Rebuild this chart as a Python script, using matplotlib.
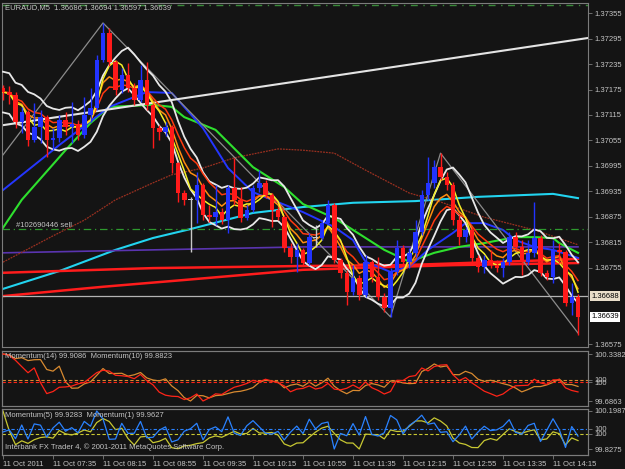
import numpy as np
import pandas as pd
import matplotlib
matplotlib.use("Agg")
import matplotlib.pyplot as plt

plt.rcParams['font.family'] = ['Liberation Sans', 'DejaVu Sans']

# ---- data (EURAUD M5, 11 Oct 2011, bar 0 = 06:55) ----
title = "EURAUD,M5  1.36686 1.36694 1.36597 1.36639"
time_labels = ["11 Oct 2011", "11 Oct 07:35", "11 Oct 08:15", "11 Oct 08:55",
               "11 Oct 09:35", "11 Oct 10:15", "11 Oct 10:55", "11 Oct 11:35",
               "11 Oct 12:15", "11 Oct 12:55", "11 Oct 13:35", "11 Oct 14:15"]
label_bars = [0, 8, 16, 24, 32, 40, 48, 56, 64, 72, 80, 88]

first_open = 1.37179
closes = [1.37169, 1.37162, 1.37098, 1.37122, 1.37056, 1.37087, 1.37110, 1.37056, 1.37061, 1.37103,
          1.37087, 1.37094, 1.37068, 1.37115, 1.37131, 1.37245, 1.37308, 1.37240, 1.37174, 1.37209,
          1.37179, 1.37150, 1.37197, 1.37139, 1.37084, 1.37075, 1.37087, 1.37002, 1.36931, 1.36915,
          1.36915, 1.36950, 1.36879, 1.36874, 1.36886, 1.36867, 1.36943, 1.36915, 1.36872, 1.36891,
          1.36943, 1.36955, 1.36926, 1.36891, 1.36874, 1.36802, 1.36780, 1.36797, 1.36766, 1.36827,
          1.36826, 1.36860, 1.36903, 1.36773, 1.36743, 1.36698, 1.36731, 1.36691, 1.36769, 1.36733,
          1.36686, 1.36660, 1.36745, 1.36802, 1.36769, 1.36790, 1.36839, 1.36926, 1.36955, 1.36992,
          1.36969, 1.36950, 1.36867, 1.36827, 1.36844, 1.36778, 1.36757, 1.36773, 1.36761, 1.36754,
          1.36769, 1.36827, 1.36804, 1.36769, 1.36790, 1.36825, 1.36743, 1.36733, 1.36797, 1.36792,
          1.36672, 1.36686, 1.36639]
highs = [1.37186, 1.37183, 1.37169, 1.37134, 1.37127, 1.37143, 1.37127, 1.37115, 1.37084, 1.37115,
         1.37122, 1.37146, 1.37103, 1.37157, 1.37179, 1.37256, 1.37332, 1.37320, 1.37245, 1.37226,
         1.37238, 1.37190, 1.37233, 1.37240, 1.37143, 1.37091, 1.37098, 1.37091, 1.37004, 1.36938,
         1.36922, 1.36981, 1.36955, 1.36903, 1.36950, 1.36896, 1.36950, 1.37014, 1.36945, 1.36903,
         1.36950, 1.36985, 1.36962, 1.36931, 1.36898, 1.36879, 1.36813, 1.36813, 1.36802, 1.36837,
         1.36856, 1.36867, 1.36915, 1.36908, 1.36778, 1.36750, 1.36761, 1.36738, 1.36785, 1.36773,
         1.36780, 1.36695, 1.36754, 1.36820, 1.36809, 1.36802, 1.36867, 1.36938, 1.37016, 1.37009,
         1.37025, 1.36981, 1.36957, 1.36879, 1.36851, 1.36851, 1.36785, 1.36785, 1.36797, 1.36773,
         1.36778, 1.36839, 1.36839, 1.36820, 1.36820, 1.36910, 1.36832, 1.36750, 1.36820, 1.36813,
         1.36797, 1.36719, 1.36694]
lows = [1.37150, 1.37141, 1.37084, 1.37072, 1.37042, 1.37051, 1.37049, 1.37016, 1.37032, 1.37051,
        1.37068, 1.37049, 1.37056, 1.37061, 1.37098, 1.37127, 1.37240, 1.37230, 1.37162, 1.37167,
        1.37169, 1.37139, 1.37146, 1.37127, 1.37037, 1.37056, 1.37065, 1.36978, 1.36910, 1.36903,
        1.36792, 1.36860, 1.36867, 1.36863, 1.36856, 1.36858, 1.36837, 1.36903, 1.36863, 1.36867,
        1.36886, 1.36933, 1.36919, 1.36851, 1.36867, 1.36792, 1.36766, 1.36745, 1.36759, 1.36761,
        1.36804, 1.36820, 1.36856, 1.36766, 1.36731, 1.36667, 1.36691, 1.36679, 1.36686, 1.36721,
        1.36679, 1.36651, 1.36639, 1.36738, 1.36759, 1.36754, 1.36780, 1.36832, 1.36915, 1.36943,
        1.36962, 1.36938, 1.36856, 1.36809, 1.36816, 1.36769, 1.36745, 1.36743, 1.36754, 1.36745,
        1.36733, 1.36761, 1.36797, 1.36738, 1.36761, 1.36780, 1.36736, 1.36726, 1.36719, 1.36766,
        1.36665, 1.36644, 1.36597]
# closes of the 14 bars before the window (needed by the momentum lines)
prior_closes = [1.36691, 1.36700, 1.36705, 1.36712, 1.36700, 1.36715, 1.36735,
                1.36864, 1.36900, 1.36850, 1.37120, 1.37250, 1.37220, 1.37190]

# long averages, (bar, price)
blue_ma = [(0, 1.36938), (9, 1.37044), (17, 1.37134), (23, 1.37169), (27, 1.37167), (32, 1.37084),
           (36, 1.36990), (40, 1.36933), (48, 1.36886), (53, 1.36851), (56, 1.36820), (58, 1.36769),
           (62, 1.36745), (65, 1.36757), (68, 1.36797), (72, 1.36837), (74, 1.36860), (77, 1.36860),
           (80, 1.36844), (82, 1.36820), (85, 1.36804), (88, 1.36797), (92, 1.36778)]
green_ma = [(0, 1.36849), (3, 1.36915), (10, 1.37032), (14, 1.37096), (17, 1.37134), (24, 1.37139),
            (27, 1.37134), (29, 1.37110), (34, 1.37080), (40, 1.36992), (45, 1.36945), (48, 1.36905),
            (53, 1.36872), (56, 1.36844), (61, 1.36797), (65, 1.36769), (69, 1.36790), (73, 1.36804),
            (77, 1.36813), (82, 1.36827), (85, 1.36827), (88, 1.36825), (89, 1.36813), (92, 1.36790)]
brown_ma = [(0, 1.36768), (8, 1.36830), (13, 1.36867), (18, 1.36915), (24, 1.36955), (27, 1.36974),
            (32, 1.36990), (37, 1.37014), (44, 1.37035), (48, 1.37032), (53, 1.37025), (58, 1.36985),
            (65, 1.36931), (70, 1.36910), (77, 1.36874), (85, 1.36844), (92, 1.36809)]
cyan_ma = [(0, 1.36705), (9, 1.36747), (18, 1.36797), (24, 1.36825), (30, 1.36846), (40, 1.36884),
           (48, 1.36898), (56, 1.36908), (66, 1.36912), (76, 1.36922), (88, 1.36929), (90, 1.36924),
           (92, 1.36919)]
purple_ma = [(0, 1.36790), (48, 1.36804), (92, 1.36804)]
red_ma_a = [(0, 1.36743), (24, 1.36754), (48, 1.36759), (64, 1.36761), (88, 1.36773), (92, 1.36776)]
red_ma_b = [(0, 1.36688), (16, 1.36710), (29, 1.36726), (48, 1.36750), (56, 1.36754), (72, 1.36761),
            (92, 1.36766)]
zigzag = [(0, 1.37021), (16, 1.37332), (62, 1.36639), (70, 1.37025), (92, 1.36601)]
trend_line = [(0, 1.37091), (92, 1.37293)]
order_level = 1.36846
order_text = "#102690446 sell"
top_level = 1.37374
gray_level = 1.36688
bid_price = 1.36639

price_ticks = [1.37355, 1.37295, 1.37235, 1.37175, 1.37115, 1.37055, 1.36995,
               1.36935, 1.36875, 1.36815, 1.36755, 1.36575]
mom1_text = "Momentum(14) 99.9086  Momentum(10) 99.8823"
mom1_labels = ["100.3382", "100", "99.6863"]
mom2_text = "Momentum(5) 99.9283  Momentum(1) 99.9627"
mom2_labels = ["100.1987", "100", "99.8275"]
footer = "Interbank FX Trader 4, \u00a9 2001-2011 MetaQuotes Software Corp."

BG = '#141414'
FRAME = '#7c7c7c'
TXT = '#c4c4c4'
W, H = 625, 469


def box(x0, y0, x1, y1):
    return [x0 / W, 1 - y1 / H, (x1 - x0) / W, (y1 - y0) / H]


def style(ax):
    ax.set_facecolor(BG)
    for sp in ax.spines.values():
        sp.set_color(FRAME)
        sp.set_linewidth(0.8)
    ax.tick_params(colors=FRAME, labelcolor=TXT, labelsize=5.5, length=3, width=0.6, pad=2)
    ax.set_xlim(-0.16, 93.6)


def pts(series):
    return [p[0] for p in series], [p[1] for p in series]


fig = plt.figure(figsize=(W / 100, H / 100), dpi=100, facecolor=BG)

# ---------------- main price window ----------------
ax = fig.add_axes(box(2, 3, 588, 347))
style(ax)
ax.set_ylim(1.36568, 1.37379)
ax.yaxis.tick_right()
ax.set_yticks(price_ticks, [f"{p:.5f}" for p in price_ticks])
ax.set_xticks([])

n = len(closes)
x = np.arange(n)
o = np.array([first_open] + closes[:-1])
c = np.array(closes)
h = np.array(highs)
l = np.array(lows)

for series, col, lw, ls in [(cyan_ma, '#22d4f0', 1.5, '-'), (purple_ma, '#5a34b0', 1.2, '-'),
                            (red_ma_a, '#ff1c1c', 1.8, '-'), (red_ma_b, '#ff1c1c', 1.8, '-'),
                            (brown_ma, '#9a3020', 0.9, (0, (1.5, 0.8))), (green_ma, '#2ee02e', 1.5, '-'),
                            (blue_ma, '#2436ff', 1.4, '-')]:
    bx, by = pts(series)
    ax.plot(bx, by, color=col, lw=lw, ls=ls, zorder=2)

zx, zy = pts(zigzag)
ax.plot(zx, zy, color='#8c8c8c', lw=0.9, zorder=2)
ax.axline(trend_line[0], trend_line[1], color='#e4e4e4', lw=1.5, zorder=2)
ax.axhline(order_level, color='#2e9a2e', lw=0.9, ls=(0, (6, 3, 1, 3)), zorder=2)
ax.axhline(top_level, color='#3a8a3a', lw=1.0, ls=(0, (5, 4, 1, 4)), zorder=2)
ax.axhline(gray_level, color='#b4b4b4', lw=0.9, zorder=2)
ax.text(2, order_level, order_text, color=TXT, fontsize=5.5, va='bottom', ha='left', zorder=6)

cs = pd.Series(closes)
yellow = cs.rolling(4, min_periods=1).mean()
orange = cs.ewm(span=6, adjust=False).mean()
red = cs.ewm(span=9, adjust=False).mean()
mid = cs.rolling(6, min_periods=1).mean()
ax.plot(x, mid + 0.00048, color='#e8e8e8', lw=1.3, zorder=3)
ax.plot(x, mid - 0.00048, color='#e8e8e8', lw=1.3, zorder=3)
ax.plot(x, red, color='#ff3a10', lw=1.1, zorder=3)
ax.plot(x, orange, color='#ff8c10', lw=1.1, zorder=3)
ax.plot(x, yellow, color='#f4f028', lw=1.1, zorder=3)

cols = np.where(c > o + 0.00002, '#2233ff', np.where(c < o - 0.00002, '#ff1a1a', '#c8c8c8'))
ax.vlines(x, l, h, colors=cols, lw=1.0, zorder=4)
ax.bar(x, np.maximum(np.abs(c - o), 0.000015), bottom=np.minimum(o, c), width=0.72,
       color=cols, zorder=5)

yt = ax.get_yaxis_transform()
ax.text(1.006, gray_level, f"{gray_level:.5f}", transform=yt, fontsize=5.5, color='black',
        va='center', ha='left', bbox=dict(boxstyle='square,pad=0.15', fc='#eadfcb', ec='none'))
ax.text(1.006, bid_price, f"{bid_price:.5f}", transform=yt, fontsize=5.5, color='black',
        va='center', ha='left', bbox=dict(boxstyle='square,pad=0.15', fc='#ffffff', ec='none'))
fig.text(5 / W, 1 - 8 / H, title, color=TXT, fontsize=5.5, va='center', ha='left')

# ---------------- momentum windows ----------------
allc = pd.Series(prior_closes + closes)


def momentum(period):
    return (100 * allc / allc.shift(period)).to_numpy()[len(prior_closes):]


def fit(axis, v, top_px, bot_px, y0, y1):
    mx, mn = np.nanmax(v), np.nanmin(v)
    per = (mx - mn) / (bot_px - top_px)
    axis.set_ylim(mn - (y1 - bot_px) * per, mx + (top_px - y0) * per)
    return mx, mn


def panel(y0, y1, top_px, bot_px, first, second, c1, c2, ls1, ls2, labels, text, bottom):
    a = fig.add_axes(box(2, y0, 588, y1))
    style(a)
    b = a.twinx()
    style(b)
    a.plot(x, first, color=c1, lw=0.9, zorder=3)
    b.plot(x, second, color=c2, lw=0.9, zorder=3)
    mx, mn = fit(a, first, top_px, bot_px, y0, y1)
    fit(b, second, top_px, bot_px, y0, y1)
    a.axhline(100, color=c1, lw=0.8, ls=ls1)
    b.axhline(100, color=c2, lw=0.8, ls=ls2)
    a.yaxis.tick_right()
    a.set_yticks([mx, 100, mn], labels)
    b.set_yticks([100], ["100"])
    if bottom:
        a.set_xticks(label_bars, time_labels, ha='left')
        a.tick_params(axis='x', pad=1.0)
    else:
        a.set_xticks([])
    fig.text(5 / W, 1 - (y0 + 6) / H, text, color=TXT, fontsize=5.5, va='center', ha='left')
    return a


panel(351, 406, 354, 401, momentum(14), momentum(10), '#d88a30', '#ff2418',
      (0, (3, 2)), (0, (3, 2)), mom1_labels, mom1_text, False)
panel(409, 455, 411, 449, momentum(5), momentum(1), '#c8c832', '#2a82ff',
      (0, (3, 2)), (0, (3, 2, 1, 2)), mom2_labels, mom2_text, True)
fig.text(5 / W, 1 - 447 / H, footer, color=TXT, fontsize=5.5, va='center', ha='left')

fig.savefig("out.png", dpi=100, facecolor=BG)
